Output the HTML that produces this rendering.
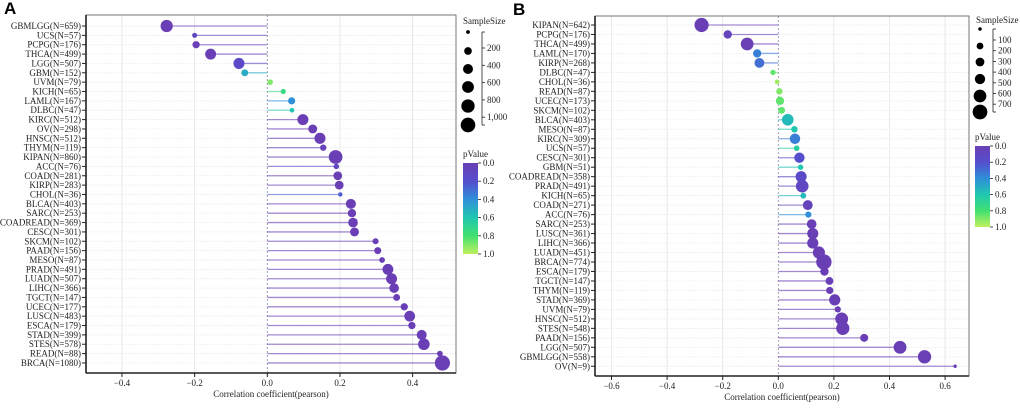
<!DOCTYPE html>
<html><head><meta charset="utf-8"><style>
body{margin:0;background:#fff;width:1020px;height:408px;overflow:hidden}
svg{display:block;font-family:"Liberation Serif",serif}
</style></head><body>
<svg id="s" width="1020" height="408"></svg>
<script>
const catsA=["GBMLGG","UCS","PCPG","THCA","LGG","GBM","UVM","KICH","LAML","DLBC","KIRC","OV","HNSC","THYM","KIPAN","ACC","COAD","KIRP","CHOL","BLCA","SARC","COADREAD","CESC","SKCM","PAAD","MESO","PRAD","LUAD","LIHC","TGCT","UCEC","LUSC","ESCA","STAD","STES","READ","BRCA"];
const nA=[659,57,176,499,507,152,79,65,167,47,512,298,512,119,860,76,281,283,36,403,253,369,301,102,156,87,491,507,366,147,177,483,179,399,578,88,1080];
const rA=[-0.277,-0.2,-0.196,-0.156,-0.078,-0.062,0.008,0.044,0.067,0.068,0.098,0.125,0.145,0.154,0.188,0.190,0.194,0.198,0.201,0.230,0.233,0.236,0.240,0.298,0.304,0.316,0.332,0.342,0.349,0.356,0.377,0.392,0.398,0.425,0.431,0.475,0.482];
const pA=[0,0.1,0,0,0.15,0.5,0.9,0.75,0.4,0.6,0,0,0,0.05,0,0.1,0,0,0.25,0,0,0,0,0,0,0,0,0,0,0,0,0,0,0,0,0,0];
const catsB=["KIPAN","PCPG","THCA","LAML","KIRP","DLBC","CHOL","READ","UCEC","SKCM","BLCA","MESO","KIRC","UCS","CESC","GBM","COADREAD","PRAD","KICH","COAD","ACC","SARC","LUSC","LIHC","LUAD","BRCA","ESCA","TGCT","THYM","STAD","UVM","HNSC","STES","PAAD","LGG","GBMLGG","OV"];
const nB=[642,176,499,170,268,47,36,87,173,102,403,87,309,57,301,51,358,491,65,271,76,253,361,366,451,774,179,147,119,369,79,512,548,156,507,558,9];
const rB=[-0.276,-0.182,-0.112,-0.076,-0.068,-0.019,-0.004,0.004,0.006,0.012,0.034,0.058,0.060,0.066,0.076,0.080,0.082,0.086,0.090,0.106,0.108,0.120,0.124,0.124,0.146,0.164,0.166,0.184,0.185,0.203,0.214,0.228,0.232,0.309,0.438,0.526,0.636];
const pB=[0,0.05,0,0.35,0.3,0.85,0.95,0.9,0.85,0.85,0.55,0.6,0.35,0.65,0.2,0.6,0.15,0.1,0.55,0.05,0.4,0,0,0,0,0,0,0,0,0,0,0,0,0,0,0,0];
const ticksA=[-0.4,-0.2,0,0.2,0.4];
const ticksB=[-0.6,-0.4,-0.2,0,0.2,0.4,0.6];
const sizeLegA=[200,400,600,800,1000];
const sizeLegB=[100,200,300,400,500,600,700];
const pTicks=[0,0.2,0.4,0.6,0.8,1.0];

const NS="http://www.w3.org/2000/svg",svg=document.getElementById('s');
function el(t,a,txt,par){const e=document.createElementNS(NS,t);for(const k in a)e.setAttribute(k,a[k]);if(txt!=null)e.textContent=txt;(par||svg).appendChild(e);return e;}
const stops=[[0,[106,63,181]],[0.2,[85,78,205]],[0.4,[47,143,216]],[0.6,[32,200,176]],[0.8,[64,224,112]],[1,[192,240,96]]];
function col(p){for(let i=1;i<stops.length;i++){if(p<=stops[i][0]){const a=stops[i-1],b=stops[i],t=(p-a[0])/(b[0]-a[0]);return 'rgb('+a[1].map((v,j)=>Math.round(v+(b[1][j]-v)*t)).join(',')+')';}}return 'rgb(192,240,96)';}
const defs=el('defs',{});
const lg=el('linearGradient',{id:'pg',x1:0,y1:0,x2:0,y2:1},null,defs);
stops.forEach(s=>el('stop',{offset:s[0],'stop-color':col(s[0])},null,lg));

function panel(o){
  const {L,R,T,B,x0,ppu,y0,dy,cats,ns,rs,ps,ticks,k,letter,lx,sizes,lg}=o;
  const X=v=>x0+v*ppu, Y=i=>y0+i*dy;
  const g=el('g',{});
  
  
  const t=el('text',{x:lx,y:T-1,'font-family':'Liberation Sans,sans-serif','font-weight':'bold','font-size':17},letter,g);
  
  // grid
  ticks.forEach(v=>{if(v!==0)el('line',{x1:X(v),x2:X(v),y1:T,y2:B,stroke:'#e2e2e2','stroke-width':0.8},null,g);});
  cats.forEach((c,i)=>el('line',{x1:L,x2:R,y1:Y(i),y2:Y(i),stroke:'#ececec','stroke-width':0.7,'stroke-dasharray':'2,1'},null,g));
  el('line',{x1:X(0),x2:X(0),y1:T,y2:B,stroke:'#8888aa','stroke-width':0.8,'stroke-dasharray':'2,2'},null,g);
  // frame
  el('rect',{x:L,y:T,width:R-L,height:B-T,fill:'none',stroke:'#555','stroke-width':0.8},null,g);
  el('line',{x1:L,x2:L,y1:T,y2:B,stroke:'#222','stroke-width':1.6},null,g);
  el('line',{x1:L,x2:R,y1:B,y2:B,stroke:'#222','stroke-width':1.6},null,g);
  ticks.forEach(v=>{el('line',{x1:X(v),x2:X(v),y1:B,y2:B+4,stroke:'#222'},null,g);
    const tl=el('text',{x:X(v),y:B+13,'font-size':9,'text-anchor':'middle',fill:'#222'},v.toFixed(1).replace('-','\u2212'),g);
    });
  const at=el('text',{x:(L+R)/2,y:B+24,'font-size':9,'text-anchor':'middle',fill:'#222'},'Correlation coefficient(pearson)',g);
  
  cats.forEach((c,i)=>{
    el('line',{x1:L-4,x2:L,y1:Y(i),y2:Y(i),stroke:'#222'},null,g);
    const yl=el('text',{x:L-5,y:Y(i)+3,'font-size':9,'text-anchor':'end',fill:'#222'},c+'(N='+ns[i]+')',g);
    
    const cc=col(ps[i]);
    const ln=el('line',{x1:X(0),x2:X(rs[i]),y1:Y(i),y2:Y(i),stroke:cc,'stroke-width':1.3,'stroke-opacity':0.6},null,g);
    
    const d=el('circle',{cx:X(rs[i]),cy:Y(i),r:1+k*Math.sqrt(ns[i]),fill:cc},null,g);
    
  });
  // size legend
  const sl=el('g',{},null,g);
  el('text',{x:lg.tx,y:lg.ty,'font-size':9,fill:'#222'},'SampleSize',sl);
  lg.cy.forEach((cy,i)=>el('circle',{cx:lg.cx,cy:cy,r:1+k*Math.sqrt(lg.cn[i]),fill:'#000'},null,sl));
  el('line',{x1:lg.bx,x2:lg.bx,y1:lg.cy[0],y2:lg.cy[lg.cy.length-1],stroke:'#222','stroke-width':0.8},null,sl);
  el('line',{x1:lg.bx,x2:lg.bx+3,y1:lg.cy[0],y2:lg.cy[0],stroke:'#222','stroke-width':0.8},null,sl);
  el('line',{x1:lg.bx,x2:lg.bx+3,y1:lg.cy[lg.cy.length-1],y2:lg.cy[lg.cy.length-1],stroke:'#222','stroke-width':0.8},null,sl);
  sizes.forEach((s,i)=>{const yy=lg.sy0+i*lg.sdy;el('line',{x1:lg.bx,x2:lg.bx+3,y1:yy,y2:yy,stroke:'#222','stroke-width':0.8},null,sl);
    el('text',{x:lg.bx+5,y:yy+3,'font-size':9,fill:'#222'},s>=1000?'1,000':String(s),sl);});
  // color legend
  const cl=el('g',{},null,g);
  el('text',{x:lg.px,y:lg.pt,'font-size':9,fill:'#222'},'pValue',cl);
  el('rect',{x:lg.px,y:lg.p0,width:15,height:lg.p1-lg.p0,fill:'url(#pg)'},null,cl);
  pTicks.forEach(v=>{const yy=lg.p0+v*(lg.p1-lg.p0);el('line',{x1:lg.px+15,x2:lg.px+18,y1:yy,y2:yy,stroke:'#222','stroke-width':0.8},null,cl);
    el('text',{x:lg.px+20,y:yy+3,'font-size':9,fill:'#222'},v.toFixed(1),cl);});
}
panel({L:86,R:456,T:15,B:373,x0:267.3,ppu:363.3,y0:26,dy:9.36,cats:catsA,ns:nA,rs:rA,ps:pA,ticks:ticksA,k:0.2,letter:'A',lx:4,sizes:sizeLegA,
 lg:{tx:463,ty:24,cx:468,cy:[32,51,69,87,106,125],cn:[20,200,400,600,800,1000],bx:482,sy0:48,sdy:17.3,px:463,pt:157,p0:163,p1:254}});
panel({L:595,R:969,T:16,B:376,x0:778.3,ppu:278,y0:25,dy:9.48,cats:catsB,ns:nB,rs:rB,ps:pB,ticks:ticksB,k:0.24,letter:'B',lx:513,sizes:sizeLegB,
 lg:{tx:976,ty:23,cx:980,cy:[29,46,62,79,96,112],cn:[10,100,200,300,500,700],bx:993,sy0:40,sdy:10.7,px:975,pt:140,p0:146,p1:227}});
</script>
</body></html>
